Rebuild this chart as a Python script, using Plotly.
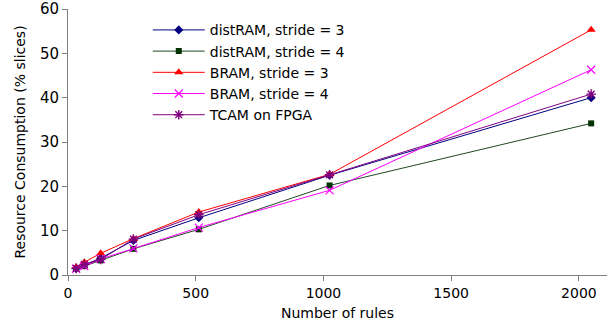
import plotly.graph_objects as go

rules = [32, 64, 128, 256, 512, 1024, 2048]
distram_s3 = [1.5, 2.3, 3.8, 7.8, 12.9, 22.5, 40.0]
distram_s4 = [1.5, 2.0, 3.3, 5.9, 10.3, 20.2, 34.2]
bram_s3 = [1.8, 2.9, 4.9, 8.2, 14.2, 22.7, 55.3]
bram_s4 = [1.4, 2.0, 3.6, 6.0, 10.7, 19.1, 46.3]
tcam = [1.5, 2.4, 3.5, 8.1, 13.6, 22.6, 40.8]

fig = go.Figure()
fig.add_trace(go.Scatter(x=rules, y=distram_s3, name="distRAM, stride = 3", mode="lines+markers",
                         line=dict(color="#000080", width=1),
                         marker=dict(symbol="diamond", size=7, color="#000080")))
fig.add_trace(go.Scatter(x=rules, y=distram_s4, name="distRAM, stride = 4", mode="lines+markers",
                         line=dict(color="#204a20", width=1),
                         marker=dict(symbol="square", size=6, color="#003300")))
fig.add_trace(go.Scatter(x=rules, y=bram_s3, name="BRAM, stride = 3", mode="lines+markers",
                         line=dict(color="#ff0000", width=1),
                         marker=dict(symbol="triangle-up", size=8, color="#ff0000")))
fig.add_trace(go.Scatter(x=rules, y=bram_s4, name="BRAM, stride = 4", mode="lines+markers",
                         line=dict(color="#ff00ff", width=1),
                         marker=dict(symbol="x-thin-open", size=8, line=dict(color="#ff00ff", width=1.2))))
fig.add_trace(go.Scatter(x=rules, y=tcam, name="TCAM on FPGA", mode="lines+markers",
                         line=dict(color="#800080", width=1),
                         marker=dict(symbol="asterisk-open", size=8, line=dict(color="#993399", width=1.4))))

fig.update_layout(
    width=613, height=329,
    margin=dict(l=68, r=6, t=9, b=54, autoexpand=False),
    paper_bgcolor="white", plot_bgcolor="white",
    font=dict(family="DejaVu Sans", size=14, color="black"),
    showlegend=True,
    legend=dict(x=0.148, y=0.98, xanchor="left", yanchor="top", bgcolor="rgba(0,0,0,0)",
                font=dict(size=14), tracegroupgap=0, itemwidth=52),
    xaxis=dict(range=[0, 2110], tickvals=[0, 500, 1000, 1500, 2000], showgrid=False, zeroline=False,
               showline=True, linecolor="#808080", ticks="outside", ticklen=5, tickcolor="#808080",
               automargin=False,
               title=dict(text="Number of rules", font=dict(size=14), standoff=8),
               tickfont=dict(size=14)),
    yaxis=dict(range=[0, 60], tickvals=[0, 10, 20, 30, 40, 50, 60], showgrid=False, zeroline=False,
               showline=True, linecolor="#808080", ticks="outside", ticklen=5, tickcolor="#808080",
               automargin=False,
               title=dict(text="Resource Consumption (% slices)", font=dict(size=14), standoff=11),
               tickfont=dict(size=15)),
)
fig.write_html("out.html", config={"displayModeBar": False},
               post_script="document.body.style.margin='0';")
